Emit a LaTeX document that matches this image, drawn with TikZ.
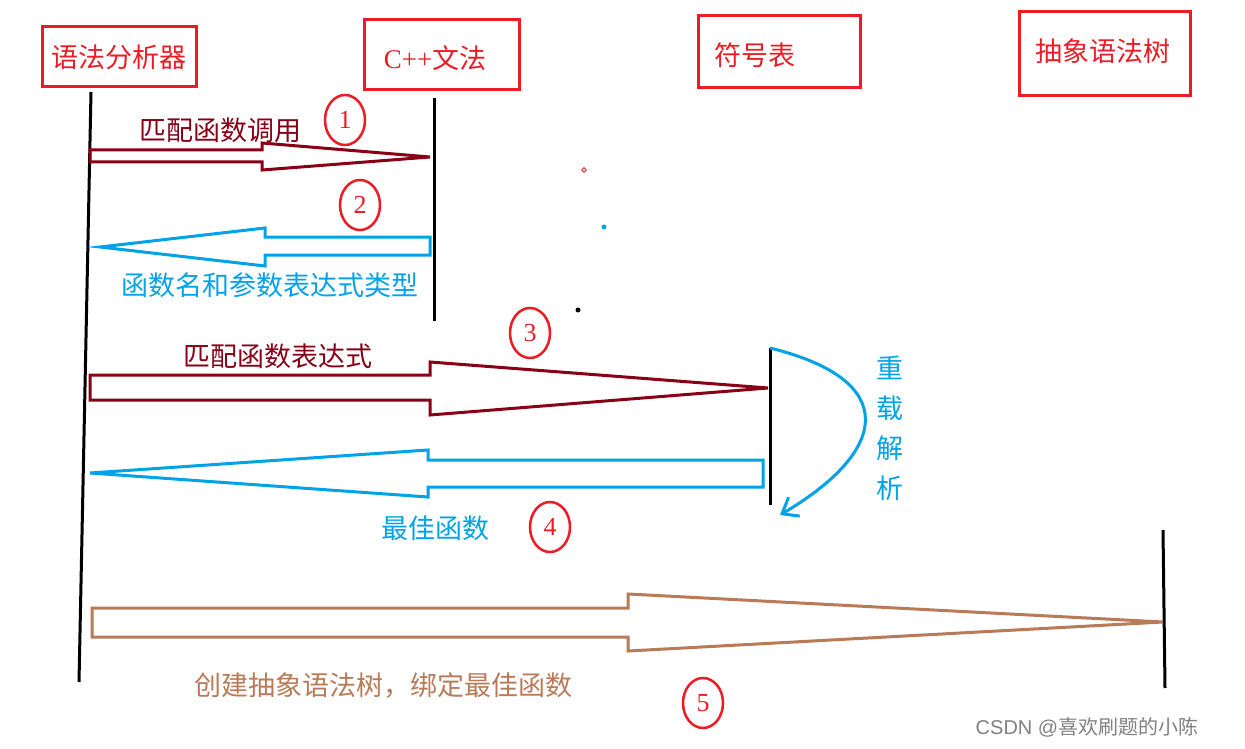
\documentclass[tikz,border=0pt]{standalone}
\usepackage{fontspec}
\setmainfont{Liberation Serif}
\newfontfamily\cjk{Noto Sans CJK SC}
\usetikzlibrary{arrows.meta,shapes.geometric}
\definecolor{dred}{HTML}{880015}
\definecolor{sky}{HTML}{00A2E8}
\definecolor{brn}{HTML}{B97A57}
\definecolor{rd}{HTML}{ED1C24}
\begin{document}
\begin{tikzpicture}[x=1pt,y=-1pt,
  lbl/.style={font=\cjk\fontsize{27}{29}\selectfont},
  num/.style={draw=rd,line width=2.5pt,ellipse,text=rd,font=\fontsize{26}{28}\selectfont,minimum width=40pt,minimum height=50pt,inner sep=0pt},
  life/.style={line width=3pt,black},
  arr/.style={line width=3pt,line join=miter}]
\useasboundingbox (0,0) rectangle (1245,749);
% title boxes
\draw[draw=rd,line width=3pt] (42,27) rectangle (196,87); \node[lbl,text=rd] (t1) at (119,57) {语法分析器};
\draw[draw=rd,line width=3pt] (364,20) rectangle (519,90); \node[lbl,text=rd] (t2) at (435,58) {{\fontspec{Liberation Serif}C++}文法};
\draw[draw=rd,line width=3pt] (698,16) rectangle (860,88); \node[lbl,text=rd] (t3) at (755,55) {符号表};
\draw[draw=rd,line width=3pt] (1019,12) rectangle (1190,96); \node[lbl,text=rd] (t4) at (1103,51) {抽象语法树};
% lifelines
\coordinate (a1) at (91,92); \coordinate (a2) at (79,682);
\draw[life] (a1) -- (a2);
\coordinate (b1) at (434,98); \coordinate (b2) at (434,321);
\draw[life] (b1) -- (b2);
\coordinate (c1) at (770,348); \coordinate (c2) at (770,505);
\draw[life] (c1) -- (c2);
\coordinate (d1) at (1163,530); \coordinate (d2) at (1165,688);
\draw[life] (d1) -- (d2);
% arrow 1
\draw[arr,dred] (90,150) -- (262,150) -- (262,143) -- (430,157) -- (262,170) -- (262,162) -- (90,162) -- cycle;
\node[lbl,text=dred] (l1) at (220,130) {匹配函数调用};
\node[num] (n1) at (345,120) {1};
% arrow 2
\draw[arr,sky] (430,237) -- (265,237) -- (265,228) -- (100,247) -- (265,266) -- (265,255) -- (430,255) -- cycle;
\node[lbl,text=sky] (l2) at (270,285) {函数名和参数表达式类型};
\node[num] (n2) at (360,205) {2};
% arrow 3
\draw[arr,dred] (90,375) -- (430,375) -- (430,362) -- (768,388) -- (430,415) -- (430,400) -- (90,400) -- cycle;
\node[lbl,text=dred] (l3) at (278,356) {匹配函数表达式};
\node[num] (n3) at (530,333) {3};
% arrow 4
\draw[arr,sky] (763,460) -- (428,460) -- (428,450) -- (90,473) -- (428,497) -- (428,487) -- (763,487) -- cycle;
\node[lbl,text=sky] (l4) at (435,528) {最佳函数};
\node[num] (n4) at (550,527) {4};
% arrow 5
\draw[arr,brn] (92,608) -- (628,608) -- (628,594) -- (1163,622) -- (628,651) -- (628,637) -- (92,637) -- cycle;
\node[lbl,text=brn] (l5) at (383,686) {创建抽象语法树，绑定最佳函数};
\node[num] (n5) at (703,703) {5};
% overload curve
\draw[sky,line width=3pt,-{Straight Barb[length=14pt,width=22pt]}] (c1) .. controls (900,380) and (890,450) .. (780,515);
\node[text=sky,align=center,font=\cjk\fontsize{27}{40}\selectfont] (ov) at (890,428) {重\\载\\解\\析};
% dots
\node[draw=rd,diamond,inner sep=1.2pt,line width=0.8pt] (p1) at (584,170) {};
\fill[sky] (604,227) circle (2.5);
\fill[black] (578,310) circle (2.5);
\node[font=\fontspec{Liberation Sans}\fontsize{20}{22}\selectfont,text=gray] (wm) at (1087,727) {CSDN @{\cjk 喜欢刷题的小陈}};
\end{tikzpicture}
\end{document}
